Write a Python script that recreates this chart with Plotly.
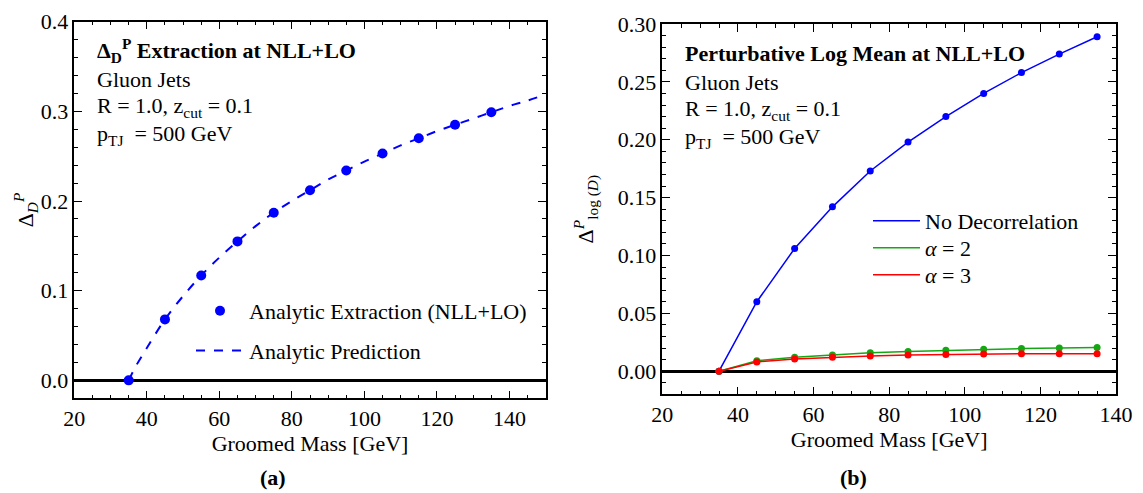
import plotly.graph_objects as go

W, H = 1143, 493
FONT = "Liberation Serif"
FS = 22

# ---- data ----
mass_pts = [35, 45, 55, 65, 75, 85, 95, 105, 115, 125, 135]
extraction = [0.0, 0.068, 0.117, 0.155, 0.187, 0.212, 0.234, 0.253, 0.270, 0.285, 0.299]

mass_curve = [35, 37, 40, 45, 50, 55, 60, 65, 70, 75, 80, 85, 90, 95, 100, 105, 110,
              115, 120, 125, 130, 135, 140, 145, 150]
prediction = [0.0, 0.016, 0.036, 0.068, 0.094, 0.117, 0.137, 0.155, 0.172, 0.187, 0.200,
              0.212, 0.224, 0.234, 0.244, 0.253, 0.262, 0.270, 0.278, 0.285, 0.292,
              0.299, 0.306, 0.312, 0.319]

no_decor = [0.0, 0.060, 0.106, 0.142, 0.173, 0.198, 0.220, 0.240, 0.258, 0.274, 0.289]
alpha2 = [0.0, 0.009, 0.012, 0.014, 0.016, 0.017, 0.018, 0.019, 0.0195, 0.020, 0.0205]
alpha3 = [0.0, 0.008, 0.0105, 0.012, 0.013, 0.014, 0.0145, 0.0148, 0.015, 0.015, 0.015]

BLUE, GREEN, RED = "#0000FF", "#13A813", "#FF0000"


def px(x):
    return x / W


def py(y):
    return 1 - y / H


fig = go.Figure()

# left panel
fig.add_trace(go.Scatter(x=mass_pts, y=extraction, mode="markers",
                         marker=dict(color=BLUE, size=10),
                         name="Analytic Extraction (NLL+LO)",
                         xaxis="x", yaxis="y", legend="legend", legendgroup="a1"))
fig.add_trace(go.Scatter(x=mass_curve, y=prediction, mode="lines",
                         line=dict(color=BLUE, width=2, dash="dash", shape="spline"),
                         name="Analytic Prediction",
                         xaxis="x", yaxis="y", legend="legend", legendgroup="a2"))

# right panel (each legend entry in its own legend box to control spacing)
right_series = [(no_decor, BLUE, "No Decorrelation", "legend2"),
                (alpha2, GREEN, "<i>α</i> = 2", "legend3"),
                (alpha3, RED, "<i>α</i> = 3", "legend4")]
for vals, col, nm, lg in right_series:
    fig.add_trace(go.Scatter(x=mass_pts, y=vals, mode="lines",
                             line=dict(color=col, width=1.5),
                             name=nm, xaxis="x2", yaxis="y2", legend=lg))
    fig.add_trace(go.Scatter(x=mass_pts, y=vals, mode="markers",
                             marker=dict(color=col, size=7),
                             showlegend=False, xaxis="x2", yaxis="y2"))

axis_common = dict(showline=True, linecolor="black", linewidth=1.5, mirror="ticks",
                   ticks="inside", ticklen=8, tickwidth=1.2, tickcolor="black",
                   showgrid=False, automargin=False,
                   tickfont=dict(family=FONT, size=FS, color="black"))

right_legend = dict(x=px(868), xanchor="left", yanchor="middle",
                    bgcolor="rgba(0,0,0,0)", itemwidth=47,
                    font=dict(family=FONT, size=FS))

fig.update_layout(
    width=W, height=H,
    margin=dict(l=0, r=0, t=0, b=0),
    paper_bgcolor="white", plot_bgcolor="white",
    font=dict(family=FONT, size=FS, color="black"),
    xaxis=dict(domain=[px(74.3), px(545.7)], range=[20, 150], tick0=20, dtick=20,
               zeroline=False,
               minor=dict(dtick=5, ticks="inside", ticklen=4, tickcolor="black"),
               title=dict(text="Groomed Mass [GeV]", standoff=4,
                          font=dict(family=FONT, size=FS)),
               anchor="y", **axis_common),
    yaxis=dict(domain=[py(398.3), py(21.7)], range=[-0.02, 0.4], tick0=0, dtick=0.1,
               tickformat=".1f", zeroline=True, zerolinecolor="black", zerolinewidth=2.5,
               minor=dict(dtick=0.02, ticks="inside", ticklen=4, tickcolor="black"),
               title=dict(text="Δ<sub><i>D</i></sub><sup><i>P</i></sup>", standoff=0,
                          font=dict(family=FONT, size=FS)),
               anchor="x", **axis_common),
    xaxis2=dict(domain=[px(662.3), px(1116)], range=[20, 140], tick0=20, dtick=20,
                zeroline=False,
                minor=dict(dtick=5, ticks="inside", ticklen=4, tickcolor="black"),
                title=dict(text="Groomed Mass [GeV]", standoff=4,
                           font=dict(family=FONT, size=FS)),
                anchor="y2", **axis_common),
    yaxis2=dict(domain=[py(394.3), py(24)], range=[-0.02, 0.30], tick0=0, dtick=0.05,
                tickformat=".2f", zeroline=True, zerolinecolor="black", zerolinewidth=2.5,
                minor=dict(dtick=0.01, ticks="inside", ticklen=4, tickcolor="black"),
                title=dict(text="Δ<sup><i>P</i></sup><sub>log (<i>D</i>)</sub>", standoff=18,
                           font=dict(family=FONT, size=FS)),
                anchor="x2", **axis_common),
    legend=dict(x=px(191), y=py(290), xanchor="left", yanchor="top",
                bgcolor="rgba(0,0,0,0)", itemwidth=48, tracegroupgap=8,
                font=dict(family=FONT, size=FS)),
    legend2=dict(y=py(221), **right_legend),
    legend3=dict(y=py(248), **right_legend),
    legend4=dict(y=py(275), **right_legend),
)

ann = []
left_lines = [("<b>Δ<sub>D</sub><sup>P</sup> Extraction at NLL+LO</b>", 50),
              ("Gluon Jets", 79),
              ("R = 1.0, z<sub>cut</sub> = 0.1", 107),
              ("p<sub>TJ</sub>  = 500 GeV", 135)]
for t, y in left_lines:
    ann.append(dict(text=t, x=px(95), y=py(y), xref="paper", yref="paper",
                    xanchor="left", yanchor="middle", showarrow=False,
                    font=dict(family=FONT, size=FS)))
right_lines = [("<b>Perturbative Log Mean at NLL+LO</b>", 53),
               ("Gluon Jets", 82),
               ("R = 1.0, z<sub>cut</sub> = 0.1", 110),
               ("p<sub>TJ</sub>  = 500 GeV", 138)]
for t, y in right_lines:
    ann.append(dict(text=t, x=px(683), y=py(y), xref="paper", yref="paper",
                    xanchor="left", yanchor="middle", showarrow=False,
                    font=dict(family=FONT, size=FS)))
for t, xc in [("<b>(a)</b>", 273), ("<b>(b)</b>", 853)]:
    ann.append(dict(text=t, x=px(xc), y=py(477), xref="paper", yref="paper",
                    xanchor="center", yanchor="middle", showarrow=False,
                    font=dict(family=FONT, size=FS)))
fig.update_layout(annotations=ann)

fig.write_html("out.html", config={"displayModeBar": False},
               post_script="document.body.style.margin='0';document.body.style.overflow='hidden';")
